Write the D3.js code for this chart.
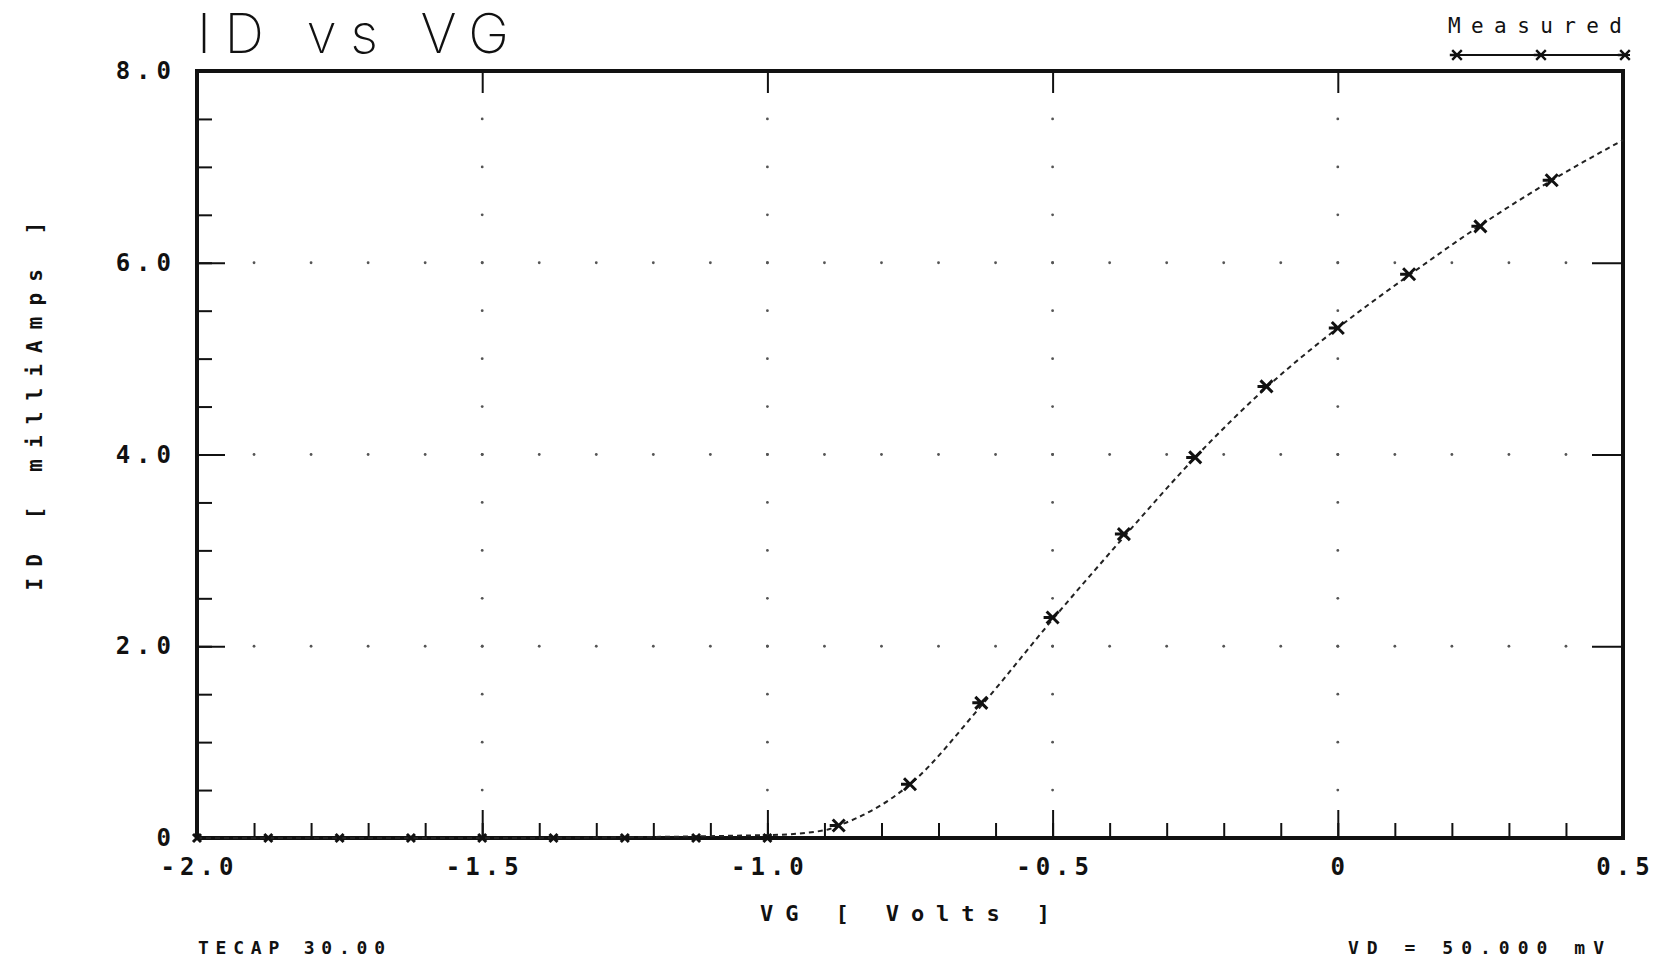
<!DOCTYPE html>
<html>
<head>
<meta charset="utf-8">
<script src="https://cdn.jsdelivr.net/npm/d3@7"></script>
<style>
  body { margin: 0; background: #fff; }
  svg { display: block; }
  .plot text { fill: #111; }
</style>
</head>
<body>
<div id="chart"></div>
<script>
// measured points (VG in volts, ID in mA)
var measVG = [-2.0, -1.875, -1.75, -1.625, -1.5, -1.375, -1.25, -1.125, -1.0, -0.875, -0.75, -0.625, -0.5, -0.375, -0.25, -0.125, 0, 0.125, 0.25, 0.375];
var measID = [0, 0, 0, 0, 0, 0, 0, 0, 0, 0.13, 0.56, 1.41, 2.30, 3.17, 3.97, 4.71, 5.32, 5.88, 6.38, 6.86];

// simulated curve
var simVG = [-2.0, -1.5, -1.0, -0.9, -0.875, -0.75, -0.625, -0.5, -0.375, -0.25, -0.125, 0, 0.125, 0.25, 0.375, 0.5];
var simID = [0, 0, 0.03, 0.08, 0.13, 0.56, 1.38, 2.28, 3.14, 3.97, 4.70, 5.32, 5.87, 6.39, 6.86, 7.28];

var xTicks = [-2.0, -1.5, -1.0, -0.5, 0, 0.5];
var xTickLabels = ["-2.0", "-1.5", "-1.0", "-0.5", "0", "0.5"];
var yTicks = [0, 2, 4, 6, 8];
var yTickLabels = ["0", "2.0", "4.0", "6.0", "8.0"];

var mono = "'DejaVu Sans Mono', monospace";

var margin = {top: 71, right: 32, bottom: 124, left: 197},
    W = 1655, H = 962,
    width = W - margin.left - margin.right,
    height = H - margin.top - margin.bottom;

var x = d3.scaleLinear().domain([-2.0, 0.5]).range([0, width]);
var y = d3.scaleLinear().domain([0, 8]).range([height, 0]);

var svg = d3.select("#chart").append("svg")
    .attr("width", W)
    .attr("height", H)
    .attr("class", "plot")
    .style("font-family", mono);

var g = svg.append("g")
    .attr("transform", "translate(" + margin.left + "," + margin.top + ")");

// dotted grid: dots every 0.1 V on major current rows, every 0.5 mA on major voltage columns
var xFine = d3.range(-1.9, 0.45, 0.1);
var yFine = d3.range(0.5, 7.6, 0.5);
var dots = [];
yTicks.slice(1, -1).forEach(function(v) {
  xFine.forEach(function(u) { dots.push([u, v]); });
});
xTicks.slice(1, -1).forEach(function(u) {
  yFine.forEach(function(v) { dots.push([u, v]); });
});
g.selectAll(".dot").data(dots).enter().append("circle")
    .attr("class", "dot")
    .attr("cx", function(d) { return x(d[0]); })
    .attr("cy", function(d) { return y(d[1]); })
    .attr("r", 1.4)
    .attr("fill", "#555");

// minor ticks
g.append("g")
    .attr("transform", "translate(0," + height + ")")
    .call(d3.axisBottom(x).tickValues(d3.range(-1.9, 0.45, 0.1)).tickSize(-15).tickFormat(""))
    .call(function(s) { s.select(".domain").remove(); })
    .selectAll("line").attr("stroke", "#111").attr("stroke-width", 2);

g.append("g")
    .call(d3.axisLeft(y).tickValues(yFine).tickSize(-15).tickFormat(""))
    .call(function(s) { s.select(".domain").remove(); })
    .selectAll("line").attr("stroke", "#111").attr("stroke-width", 2);

// major ticks + labels
var xAxis = g.append("g")
    .attr("transform", "translate(0," + height + ")")
    .call(d3.axisBottom(x).tickValues(xTicks).tickSize(-28).tickPadding(20)
      .tickFormat(function(d, i) { return xTickLabels[i]; }));
xAxis.select(".domain").remove();
xAxis.selectAll("line").attr("stroke", "#111").attr("stroke-width", 2);
xAxis.selectAll("text")
    .style("font-family", mono)
    .attr("font-size", 24).attr("font-weight", "bold")
    .attr("letter-spacing", 5).attr("dx", 2);

var yAxis = g.append("g")
    .call(d3.axisLeft(y).tickValues(yTicks).tickSize(-28).tickPadding(20)
      .tickFormat(function(d, i) { return yTickLabels[i]; }));
yAxis.select(".domain").remove();
yAxis.selectAll("line").attr("stroke", "#111").attr("stroke-width", 2);
yAxis.selectAll("text")
    .style("font-family", mono)
    .attr("font-size", 24).attr("font-weight", "bold")
    .attr("letter-spacing", 6);

g.append("g")
    .call(d3.axisTop(x).tickValues(xTicks).tickSize(-22).tickFormat(""))
    .call(function(s) { s.select(".domain").remove(); })
    .selectAll("line").attr("stroke", "#111").attr("stroke-width", 2);

g.append("g")
    .attr("transform", "translate(" + width + ",0)")
    .call(d3.axisRight(y).tickValues(yTicks).tickSize(-31).tickFormat(""))
    .call(function(s) { s.select(".domain").remove(); })
    .selectAll("line").attr("stroke", "#111").attr("stroke-width", 2);

// frame
g.append("rect")
    .attr("width", width)
    .attr("height", height)
    .attr("fill", "none")
    .attr("stroke", "#111")
    .attr("stroke-width", 4);

// simulated line
var line = d3.line()
    .x(function(d) { return x(d[0]); })
    .y(function(d) { return y(d[1]); })
    .curve(d3.curveMonotoneX);

g.append("path")
    .datum(simVG.map(function(v, i) { return [v, simID[i]]; }))
    .attr("d", line)
    .attr("fill", "none")
    .attr("stroke", "#222")
    .attr("stroke-width", 2)
    .attr("stroke-dasharray", "5,4");

// measured markers (the ones sitting on zero only poke out of the axis a little)
var marker = "M-6,-6L6,6M-6,6L6,-6M-9,0L0,0";
var markerLow = "M-4,-4L4,4M-4,4L4,-4";
g.selectAll(".meas").data(measVG).enter().append("path")
    .attr("class", "meas")
    .attr("transform", function(d, i) { return "translate(" + x(d) + "," + y(measID[i]) + ")"; })
    .attr("d", function(d, i) { return measID[i] > 0 ? marker : markerLow; })
    .attr("fill", "none")
    .attr("stroke", "#111")
    .attr("stroke-width", 3);

// titles and notes
svg.append("text")
    .attr("x", 197).attr("y", 53)
    .style("font-family", "Inter, 'Open Sans', sans-serif")
    .style("font-weight", 200)
    .attr("font-size", 55)
    .attr("textLength", 312).attr("lengthAdjust", "spacing")
    .text("ID vs VG");

svg.append("text")
    .attr("transform", "translate(42," + 406 + ") rotate(-90)")
    .attr("text-anchor", "middle")
    .attr("font-size", 21).attr("font-weight", "bold")
    .attr("textLength", 369).attr("lengthAdjust", "spacing")
    .text("ID  [ milliAmps ]");

svg.append("text")
    .attr("x", 760).attr("y", 921)
    .attr("font-size", 22).attr("font-weight", "bold")
    .attr("textLength", 290).attr("lengthAdjust", "spacing")
    .text("VG  [ Volts ]");

svg.append("text")
    .attr("x", 198).attr("y", 954)
    .attr("font-size", 18).attr("font-weight", "bold")
    .attr("textLength", 187).attr("lengthAdjust", "spacing")
    .text("TECAP 30.00");

svg.append("text")
    .attr("x", 1348).attr("y", 954)
    .attr("font-size", 18).attr("font-weight", "bold")
    .attr("textLength", 256).attr("lengthAdjust", "spacing")
    .text("VD =  50.000 mV");

// legend
svg.append("text")
    .attr("x", 1448).attr("y", 33)
    .attr("font-size", 21)
    .attr("textLength", 174).attr("lengthAdjust", "spacing")
    .text("Measured");

svg.append("line")
    .attr("x1", 1450).attr("x2", 1630)
    .attr("y1", 55).attr("y2", 55)
    .attr("stroke", "#111").attr("stroke-width", 2);

svg.selectAll(".leg").data([1457, 1541, 1625]).enter().append("path")
    .attr("class", "leg")
    .attr("transform", function(d) { return "translate(" + d + ",55) scale(0.8)"; })
    .attr("d", marker)
    .attr("fill", "none")
    .attr("stroke", "#111")
    .attr("stroke-width", 3);
</script>
</body>
</html>
